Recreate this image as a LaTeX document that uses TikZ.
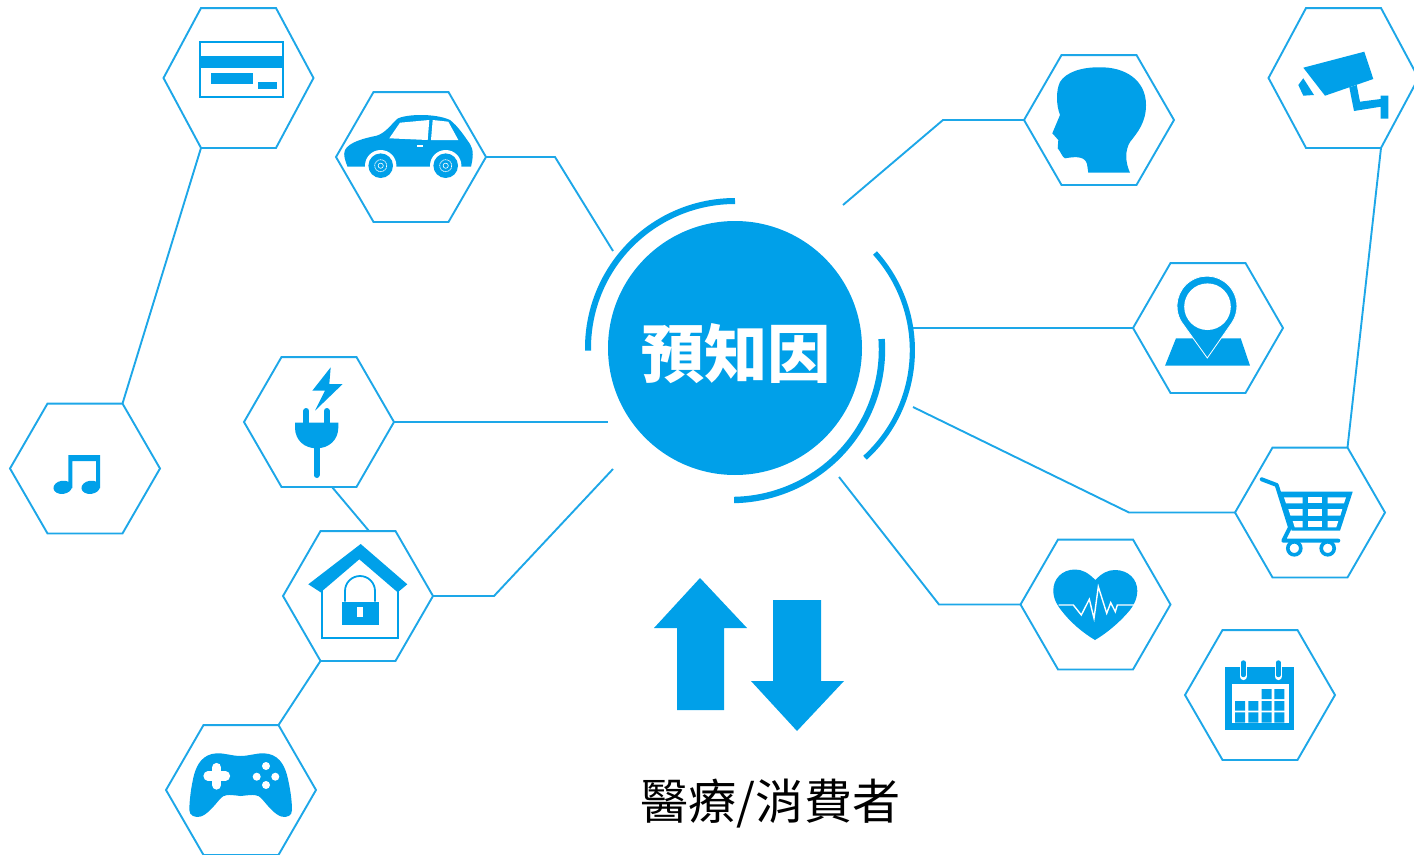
\documentclass[tikz,border=0pt]{standalone}
\usepackage{fontspec}
\usetikzlibrary{shapes.geometric}
\newfontfamily\cjkfont{Noto Sans CJK TC}
\definecolor{iconblue}{HTML}{00A0E9}
\definecolor{wireblue}{HTML}{1DA7E8}
\begin{document}
\begin{tikzpicture}[x=0.05cm,y=0.05cm]
            \tikzstyle{every node}+=[inner sep=0pt,outer sep=0pt]
            \tikzstyle{hexnode}=[draw=wireblue,line width=0.95mm,fill=white,regular polygon,regular polygon sides=6,minimum size=7.5cm]
            \tikzstyle{tallhex}=[hexnode,yscale=1.077,transform shape]
            \tikzstyle{wire}=[draw=wireblue,line width=0.95mm,line join=miter]
            \tikzstyle{ring}=[draw=iconblue]
            \useasboundingbox (0,0) rectangle (1414,-854);
            \node [circle,fill=iconblue,minimum size=12.7cm] (hub) at (735,-348) {};
            \node [text=white,font=\cjkfont\bfseries\fontsize{90}{90}\selectfont] (hubtext) at (736,-354) {預知因};
            \node [font=\cjkfont\fontsize{68.5}{68.5}\selectfont] (userlabel) at (770.5,-804) {醫療/消費者};
            \node [tallhex] (card) at (238.5,-78) {};
            \node [hexnode] (car) at (411,-157) {};
            \node [hexnode] (note) at (85,-468.5) {};
            \node [hexnode] (plug) at (319,-422) {};
            \node [hexnode] (house) at (358,-596) {};
            \node [hexnode] (game) at (241,-790) {};
            \node [hexnode] (head) at (1099,-120) {};
            \node [hexnode] (pin) at (1208,-328) {};
            \node [tallhex] (camera) at (1343.5,-78) {};
            \node [hexnode] (cart) at (1310,-512.5) {};
            \node [hexnode] (heart) at (1095.5,-604.5) {};
            \node [hexnode] (calendar) at (1260,-695) {};
            \coordinate (carend) at (613,-251);
            \coordinate (plugend) at (608,-422);
            \coordinate (houseend) at (613,-469);
            \coordinate (headend) at (843,-205);
            \coordinate (pinend) at (912,-328);
            \coordinate (cartend) at (913,-407);
            \coordinate (heartend) at (839,-477);
            \draw [wire] (card.corner 4) -- (note.corner 1);
            \draw [wire] (car.corner 6) -- (555,-157) -- (carend);
            \draw [wire] (plug.corner 6) -- (plugend);
            \draw [wire] ([shift={(13,-65)}]plug.center) -- ([shift={(11,65)}]house.center);
            \draw [wire] (house.corner 6) -- (494,-596) -- (houseend);
            \draw [wire] (house.corner 4) -- (game.corner 1);
            \draw [wire] (head.corner 3) -- (943,-120) -- (headend);
            \draw [wire] (pin.corner 3) -- (pinend);
            \draw [wire] (cart.corner 3) -- (1129,-512.5) -- (cartend);
            \draw [wire] (heart.corner 3) -- (939,-604.5) -- (heartend);
            \draw [wire] (camera.corner 5) -- (cart.corner 1);
            \draw [ring,line width=3mm] (735,-201) arc (90:181:147);
            \draw [ring,line width=3.2mm] (881.6,-339) arc (4:-89:150.5);
            \draw [ring,line width=2.6mm] (875,-253) arc (42:-47.6:145.5);
            \fill [iconblue] (700,-578) -- (747,-628) -- (724,-628) -- (724,-710) -- (677,-710) -- (677,-628) -- (654,-628) -- cycle;
            \fill [iconblue] (797,-731) -- (844,-681) -- (821,-681) -- (821,-600) -- (773,-600) -- (773,-681) -- (751,-681) -- cycle;
            \draw [iconblue,line width=1mm] (200,-42) rectangle (283,-97);
            \fill [iconblue] (200,-56) rectangle (283,-68.3);
            \fill [iconblue] (211,-72.7) rectangle (253,-84.3);
            \fill [iconblue] (257.7,-81.7) rectangle (277,-88.7);
            \fill [iconblue] (347.5,-166.7) .. controls (345,-160) and (343,-155) .. (345,-150) .. controls (349,-142) and (365,-138) .. (376.7,-135.7) .. controls (385,-133) and (390,-126) .. (397,-119) .. controls (405,-114) and (435,-113) .. (450,-120) .. controls (458,-126) and (465,-137) .. (470,-144) .. controls (474,-150) and (473,-158) .. (471,-166.7) -- cycle;
            \fill [white] (389.3,-138.3) -- (400,-122.7) -- (429.3,-120) -- (427.7,-140) -- cycle;
            \fill [white] (432.7,-120) -- (448.3,-121.7) -- (458.3,-140) -- (431,-140) -- cycle;
            \fill [white] (417,-145) rectangle (423,-147);
            \fill [white] (380.7,-165.7) circle (15.7);
            \fill [white] (445.7,-165.7) circle (15.7);
            \fill [iconblue] (380.7,-165.7) circle (12.3);
            \fill [iconblue] (445.7,-165.7) circle (12.3);
            \draw [white,line width=0.35mm,dash pattern=on 0.6mm off 0.3mm] (380.7,-165.7) circle (6);
            \draw [white,line width=0.35mm,dash pattern=on 0.6mm off 0.3mm] (445.7,-165.7) circle (6);
            \draw [white,line width=0.3mm] (380.7,-165.7) circle (2.6);
            \draw [white,line width=0.3mm] (445.7,-165.7) circle (2.6);
            \fill [iconblue] (330.7,-367.3) -- (312.3,-390.7) -- (325,-390.7) -- (315,-410.7) -- (342.7,-384) -- (329.3,-384) -- cycle;
            \draw [iconblue,line width=3mm,line cap=round] (306.3,-411) -- (306.3,-424);
            \draw [iconblue,line width=3mm,line cap=round] (326.7,-411) -- (326.7,-424);
            \draw [iconblue,line width=3mm,line cap=round] (316.5,-445) -- (316.5,-475);
            \fill [iconblue] (295,-422.7) -- (338.3,-422.7) -- (338.3,-428) .. controls (338,-440) and (329,-448.3) .. (316.6,-448.3) .. controls (304,-448.3) and (295.3,-440) .. (295,-428) -- cycle;
            \fill [iconblue] (308.3,-584.3) -- (360.7,-544) -- (407.3,-584.3) -- (397.7,-592.3) -- (359.3,-559.3) -- (320.7,-592.3) -- cycle;
            \draw [iconblue,line width=0.9mm] (321.7,-590) -- (321.7,-638.3) -- (397.7,-638.3) -- (397.7,-590);
            \fill [iconblue] (342,-601.7) rectangle (379.3,-625.3);
            \fill [white] (357.3,-607.3) rectangle (363.3,-617.3);
            \draw [iconblue,line width=0.9mm] (345,-601.7) -- (345,-591) arc (180:0:15) -- (375,-601.7);
            \fill [iconblue] (68.3,-455) -- (100,-455) -- (100,-488) -- (96,-488) -- (96,-461) -- (72.3,-461) -- (72.3,-488) -- (68.3,-488) -- cycle;
            \fill [iconblue,rotate around={8:(62.7,-487.3)}] (62.7,-487.3) ellipse (9.3 and 6.6);
            \fill [iconblue,rotate around={8:(90.7,-487.3)}] (90.7,-487.3) ellipse (9.3 and 6.6);
            \fill [iconblue] (216.7,-753.3) .. controls (225,-753) and (232,-756) .. (240.7,-756) .. controls (249,-756) and (256,-753) .. (264,-753.3) .. controls (278,-754) and (284,-764) .. (287,-775) .. controls (290,-787) and (292,-800) .. (292,-810) .. controls (292,-816) and (287,-817.5) .. (282,-816.7) .. controls (275,-815) and (268,-806) .. (262,-799) .. controls (258,-794) and (254,-794.5) .. (240.7,-796) .. controls (228,-794.5) and (224,-794) .. (220,-799) .. controls (214,-806) and (207,-815) .. (200,-816.7) .. controls (195,-817.5) and (189.5,-816) .. (189.3,-810) .. controls (189.5,-800) and (191,-787) .. (194,-775) .. controls (197,-764) and (203,-754) .. (216.7,-753.3) -- cycle;
            \draw [white,line width=4.6mm,line cap=round] (208,-776) -- (225.5,-776);
            \draw [white,line width=4.6mm,line cap=round] (216.7,-767.5) -- (216.7,-785);
            \fill [white] (266,-766) circle (4) (256.7,-776.7) circle (4) (275.3,-776.7) circle (4) (266,-785) circle (4);
            \fill [iconblue] (1100,-67.3) .. controls (1125,-67) and (1146,-80) .. (1146,-105) .. controls (1146,-122) and (1138,-132) .. (1130,-142) .. controls (1125,-150) and (1125,-162) .. (1130,-172.7) -- (1088.3,-172.7) -- (1087,-164) .. controls (1085,-157) and (1078,-156) .. (1065,-158.3) .. controls (1062,-157) and (1061,-152) .. (1057.7,-148.3) -- (1058.3,-140) -- (1052.3,-133.3) -- (1060,-115) .. controls (1056,-105) and (1056,-90) .. (1060,-82) .. controls (1066,-72) and (1082,-67) .. (1100,-67.3) -- cycle;
            \fill [iconblue] (1303.3,-67.7) -- (1364.3,-51.7) -- (1373.3,-79) -- (1325,-95.7) -- cycle;
            \fill [iconblue] (1303.3,-78.3) -- (1298.3,-85) -- (1303.3,-95.7) -- (1314,-95) -- cycle;
            \fill [iconblue] (1349.3,-87.3) -- (1356.7,-85) -- (1360,-101.7) -- (1380.7,-99) -- (1380.7,-95.7) -- (1388.3,-95.7) -- (1388.3,-118.7) -- (1380.7,-118.7) -- (1380.7,-106.7) -- (1354,-111) -- cycle;
            \fill [iconblue] (1176,-338.3) -- (1240.7,-338.3) -- (1250,-365.7) -- (1165,-365.7) -- cycle;
            \filldraw [iconblue,draw=white,line width=0.4mm] (1207.3,-358) -- (1181.5,-322) arc (212:-32:30) -- cycle;
            \fill [white] (1207.5,-306.7) circle (23.3);
            \draw [iconblue,line width=2mm,line cap=round,line join=round] (1261.7,-479.3) -- (1276.7,-485) -- (1290,-527.3) -- (1283.3,-540.7) -- (1338.3,-540.7);
            \fill [iconblue] (1279.3,-491.7) -- (1352.7,-491.7) -- (1340,-530.7) -- (1291.7,-530.7) -- cycle;
            \fill [white] (1284,-497.3) -- (1302.7,-497.3) -- (1302.7,-503.3) -- (1286,-503.3) -- cycle;
            \fill [white] (1308.3,-497.3) rectangle (1321.7,-503.3);
            \fill [white] (1327.7,-497.3) -- (1346,-497.3) -- (1344,-503.3) -- (1327.7,-503.3) -- cycle;
            \fill [white] (1288.3,-509) -- (1302.7,-509) -- (1302.7,-515.7) -- (1290.5,-515.7) -- cycle;
            \fill [white] (1308.3,-509) rectangle (1321.7,-515.7);
            \fill [white] (1327.7,-509) -- (1342.3,-509) -- (1340.3,-515.7) -- (1327.7,-515.7) -- cycle;
            \fill [white] (1292.7,-521) -- (1302.7,-521) -- (1302.7,-527.3) -- (1294.7,-527.3) -- cycle;
            \fill [white] (1308.3,-521) rectangle (1321.7,-527.3);
            \fill [white] (1327.7,-521) -- (1338.3,-521) -- (1336.3,-527.3) -- (1327.7,-527.3) -- cycle;
            \filldraw [fill=white,draw=iconblue,line width=1.8mm] (1294.3,-548.3) circle (6.5);
            \filldraw [fill=white,draw=iconblue,line width=1.8mm] (1327.7,-548.3) circle (6.5);
            \fill [iconblue] (1095.3,-580) .. controls (1088,-572.5) and (1082,-569.5) .. (1075,-569.5) .. controls (1062,-569.5) and (1053,-579) .. (1053.3,-591) .. controls (1053.5,-600) and (1058,-606) .. (1061,-610) .. controls (1070,-622) and (1083,-633) .. (1095,-640) .. controls (1107,-633) and (1120,-622) .. (1130,-610) .. controls (1133,-606) and (1137,-600) .. (1137.3,-591) .. controls (1137.5,-579) and (1128,-570) .. (1115,-570) .. controls (1108,-570) and (1102,-573) .. (1095.3,-580) -- cycle;
            \draw [white,line width=0.7mm] (1058.7,-605) -- (1073.3,-605) -- (1081.3,-615) -- (1089.3,-599.3) -- (1094,-618.3) -- (1098.3,-586.7) -- (1106.7,-613.3) -- (1110.7,-602.7) -- (1115.3,-611.7) -- (1117.3,-605) -- (1134,-605);
            \fill [iconblue] (1225,-666.7) rectangle (1294.3,-730);
            \fill [white] (1232.3,-684.3) rectangle (1288.7,-723.3);
            \draw [white,line width=3.6mm,line cap=round] (1243.3,-664) -- (1243.3,-676.5);
            \draw [white,line width=3.6mm,line cap=round] (1278.3,-664) -- (1278.3,-676.5);
            \draw [iconblue,line width=2.2mm,line cap=round] (1243.3,-662.5) -- (1243.3,-675);
            \draw [iconblue,line width=2.2mm,line cap=round] (1278.3,-662.5) -- (1278.3,-675);
            \fill [iconblue] (1261.7,-689) rectangle (1271.7,-699) (1274.3,-689) rectangle (1284.3,-699);
            \fill [iconblue] (1235,-701) rectangle (1245,-710.7) (1248.3,-701) rectangle (1258.3,-710.7) (1261.7,-701) rectangle (1271.7,-710.7) (1274.3,-701) rectangle (1284.3,-710.7);
            \fill [iconblue] (1235,-712.3) rectangle (1245,-722.7) (1248.3,-712.3) rectangle (1258.3,-722.7) (1261.7,-712.3) rectangle (1271.7,-722.7) (1274.3,-712.3) rectangle (1284.3,-722.7);
          \end{tikzpicture}
\end{document}
